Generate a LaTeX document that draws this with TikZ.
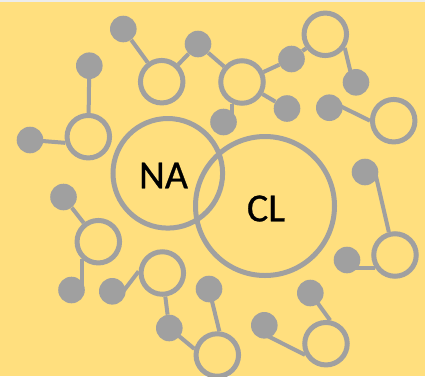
\documentclass[tikz,border=0pt]{standalone}
\usepackage{fontspec}
\setmainfont{Carlito}[FakeBold=0.6]
\definecolor{bgyellow}{HTML}{FFDF7E}
\definecolor{molgray}{HTML}{A0A0A0}
\definecolor{topband}{HTML}{ECECEC}
\begin{document}
\begin{tikzpicture}[x=1pt,y=-1pt,
  hollow/.style={circle,draw=molgray,line width=5pt,minimum size=42.5pt,inner sep=0pt},
  atom/.style={circle,fill=molgray,minimum size=26.6pt,inner sep=0pt},
  bigring/.style={circle,draw=molgray,line width=5pt,inner sep=0pt},
  bond/.style={draw=molgray,line width=4pt},
  lbl/.style={font=\fontsize{40}{40}\selectfont,text=black,inner sep=0pt}]
\fill[bgyellow] (0,0) rectangle (425,376);
\fill[topband] (0,0) rectangle (425,2);
\useasboundingbox (0,0) rectangle (425,376);

% big rings
\node[bigring,minimum size=109.6pt] (na) at (167.8,173.3) {};
\node[bigring,minimum size=139pt] (cl) at (265,206) {};
\node[lbl] (natext) at (163.5,175.5) {NA};
\node[lbl] (cltext) at (266,208.5) {CL};

% hollow atoms
\node[hollow] (h1) at (88.3,136.7) {};
\node[hollow] (h2) at (161.7,81.7) {};
\node[hollow] (h3) at (242,82) {};
\node[hollow] (h4) at (325.3,34.3) {};
\node[hollow] (h5) at (393.7,120.7) {};
\node[hollow] (h6) at (395,255) {};
\node[hollow] (h7) at (326,343.7) {};
\node[hollow] (h8) at (217.3,355) {};
\node[hollow] (h9) at (162.3,273) {};
\node[hollow] (h10) at (98.3,241.7) {};

% filled atoms
\node[atom] (d1) at (89.3,65.7) {};
\node[atom] (d2) at (30,140) {};
\node[atom] (d3) at (123.3,29) {};
\node[atom] (d4) at (198,44) {};
\node[atom] (d5) at (291.5,59) {};
\node[atom] (d6) at (287,108.5) {};
\node[atom] (d7) at (223.5,122) {};
\node[atom] (d8) at (356,82.3) {};
\node[atom] (d9) at (329.3,107.7) {};
\node[atom] (d10) at (347,260) {};
\node[atom] (d11) at (365,172) {};
\node[atom] (d12) at (310.3,293) {};
\node[atom] (d13) at (264.3,325.3) {};
\node[atom] (d14) at (209,289) {};
\node[atom] (d15) at (169.3,328) {};
\node[atom] (d16) at (112.3,291.3) {};
\node[atom] (d17) at (63.5,197) {};
\node[atom] (d18) at (71.5,290) {};

% bonds
\path[bond] (h1) -- (d1);
\path[bond] (d2.center) -- (h1.195);
\path[bond] (h2) -- (d3);
\path[bond] (h2) -- (d4);
\path[bond] (d4) -- (h3);
\path[bond] (h3) -- (d5);
\path[bond] (h3) -- (d6);
\path[bond] (h3.245) -- (h3.245 |- d7.center);
\path[bond] (d5) -- (h4);
\path[bond] (h4.325) -- ([xshift=-3pt]d8.center);
\path[bond] (h5.west) -- ([yshift=7pt]d9.center);
\path[bond] (h6.214) -- (h6.214 -| d10.center);
\path[bond] ([xshift=10pt]d11.center) -- (h6.105);
\path[bond] (d12.center) -- (h7.80);
\path[bond] ([yshift=-9pt]d13.center) -- (h7.208);
\path[bond] (d14.center) -- (h8.85);
\path[bond] (d15.center) -- (h8.165);
\path[bond] (h9) -- (d15);
\path[bond] (h9.176) -- ([xshift=11pt]d16.center);
\path[bond] (h10) -- (d17);
\path[bond] (h10.228) -- (h10.228 |- d18.center);
\end{tikzpicture}
\end{document}
